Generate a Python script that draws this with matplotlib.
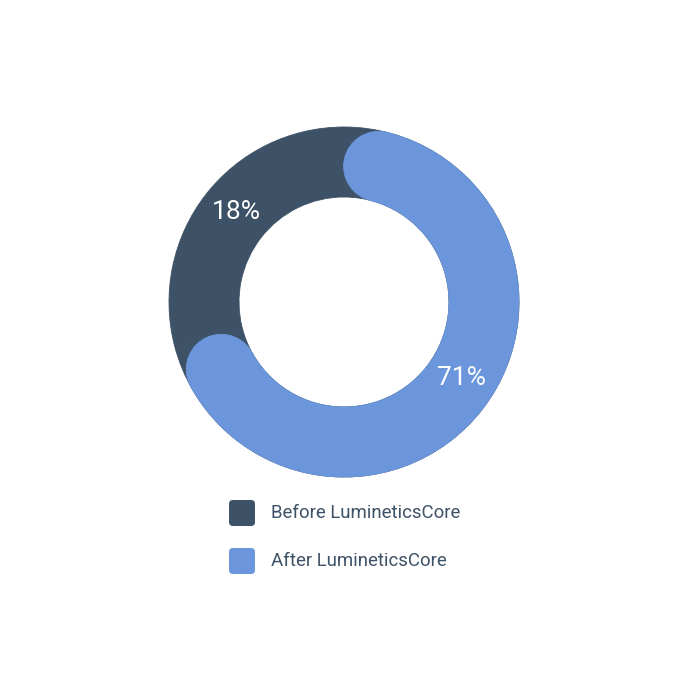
import matplotlib.pyplot as plt
import numpy as np
from matplotlib.patches import Wedge, Circle, FancyBboxPatch

plt.rcParams['font.family'] = ['Roboto', 'DejaVu Sans']

# data
labels = ['Before LumineticsCore', 'After LumineticsCore']
values = [18, 71]
colors = ['#3d5267', '#6c96db']
text_color = '#3d5267'

# ring geometry in pixels (figure is 700x700, y goes up)
cx, cy = 344, 398
R = 175
W = 70

fig = plt.figure(figsize=(7, 7), dpi=100)
ax = fig.add_axes([0, 0, 1, 1])
fig.patch.set_facecolor('white')

before, after = values
# dark track, split at the end of the "after" share
wedges, _ = ax.pie([after, 100 - after], colors=[colors[0], colors[0]], startangle=90,
                   counterclock=False, radius=R, center=(cx, cy),
                   wedgeprops=dict(width=W, edgecolor=colors[0], linewidth=0.6))

# blue arc with rounded ends kept inside the slice
t1, t2 = wedges[0].theta1, wedges[0].theta2
rm = R - W / 2
cap = np.degrees((W / 2) / rm)
ax.add_patch(Wedge((cx, cy), R, t1 + cap, t2 - cap, width=W, facecolor=colors[1],
                   edgecolor=colors[1], linewidth=0.6))
for t in (t1 + cap, t2 - cap):
    ax.add_patch(Circle((cx + rm * np.cos(np.radians(t)), cy + rm * np.sin(np.radians(t))),
                        W / 2, facecolor=colors[1], edgecolor=colors[1], linewidth=0.6))

# percentage labels (nudged a little, like the original)
a_mid = (t1 + t2) / 2 + 5
b_mid = (wedges[1].theta1 + wedges[1].theta2) / 2 - 2
for ang, v in ((a_mid, after), (b_mid, before)):
    ax.text(cx + rm * np.cos(np.radians(ang)), cy + rm * np.sin(np.radians(ang)), f'{v}%',
            color='white', fontsize=19, ha='center', va='center')

# legend
for i, (lab, col) in enumerate(zip(labels, colors)):
    y = 187 - i * 48
    ax.add_patch(FancyBboxPatch((229 + 4, y - 13 + 4), 26 - 8, 26 - 8,
                                boxstyle='round,pad=4', facecolor=col, edgecolor='none'))
    ax.text(271, y, lab, color=text_color, fontsize=13.4, ha='left', va='center')

ax.set_xlim(0, 700)
ax.set_ylim(0, 700)
ax.set_aspect('equal')
ax.axis('off')

fig.savefig('out.png', dpi=100, facecolor='white')
